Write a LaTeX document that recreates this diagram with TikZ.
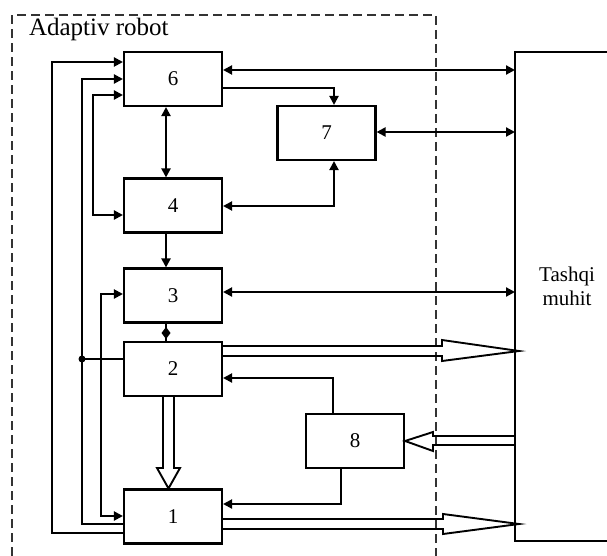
\documentclass[tikz,border=0pt]{standalone}
\usepackage{fontspec}
\setmainfont{Liberation Serif}
\usetikzlibrary{arrows.meta,calc}
\begin{document}
\begin{tikzpicture}[x=1pt,y=-1pt,
  line width=2.1pt,
  blk/.style={draw,minimum width=98pt,minimum height=54pt,inner sep=0pt,font=\fontsize{21}{24}\selectfont},
  arr/.style={-{Triangle[length=9pt,width=9pt]}},
  arrboth/.style={{Triangle[length=9pt,width=9pt]}-{Triangle[length=9pt,width=9pt]}},
  hollow/.style={line width=1.9pt,line join=miter},
  frame/.style={draw=black!80,line width=1.9pt,dash pattern=on 9pt off 5pt}
]
\useasboundingbox (0,0) rectangle (607,556);
% frame
\draw[frame] (12,556) -- (12,15) -- (436,15) -- (436,556);
\node[anchor=base west,font=\fontsize{25}{28}\selectfont,inner sep=0pt] (lbl) at (28,36) {Adaptiv robot};
% blocks
\node[blk] (b6) at (173,79) {6};
\node[blk] (b4) at (173,205.5) {4};
\node[blk] (b3) at (173,295.5) {3};
\node[blk] (b2) at (173,369) {2};
\node[blk] (b1) at (173,516.5) {1};
\node[blk] (b7) at (326.5,133) {7};
\node[blk] (b8) at (355,441) {8};
% environment
\coordinate (envNW) at (515,52);
\coordinate (envSW) at (515,541);
\draw (607,52) -- (envNW) -- (envSW) -- (607,541);
\node[align=center,font=\fontsize{21}{24}\selectfont,inner sep=0pt] (env) at (567,286) {Tashqi\\muhit};
% left feedback lines
\draw[arr] (b1.west |- 0,533) -- (52,533) -- (52,62) -- (b6.west |- 0,62);
\draw[arr] (b1.west |- 0,524) -- (82,524) -- (82,79) -- (b6.west |- 0,79);
\draw (b2.west |- 0,359) -- (82,359);
\fill (82,359) circle (3.5pt);
\draw[arrboth] (b4.west |- 0,215) -- (93,215) -- (93,95) -- (b6.west |- 0,95);
\draw[arrboth] (b1.west |- 0,516) -- (101,516) -- (101,294) -- (b3.west |- 0,294);
% central verticals
\draw[arrboth] (b6.south -| 166,0) -- (b4.north -| 166,0);
\draw[arr] (b4.south -| 166,0) -- (b3.north -| 166,0);
\draw (b3.south -| 166,0) -- (b2.north -| 166,0);
\coordinate (dm) at (166,333);
\fill ($(dm)+(0,-6)$) -- ($(dm)+(4.5,0)$) -- ($(dm)+(0,6)$) -- ($(dm)+(-4.5,0)$) -- cycle;
\draw[hollow] (b2.south -| 163,0) -- (163,468) -- (157,468) -- (b1.north -| 168.5,0) -- (180,468) -- (174,468) -- (b2.south -| 174,0);
% right side
\draw[arrboth] (b6.east |- 0,70) -- (envNW |- 0,70);
\draw[arr] (b6.east |- 0,88) -- (334,88) -- (b7.north -| 334,0);
\draw[arrboth] (b7.east |- 0,132) -- (envNW |- 0,132);
\draw[arrboth] (b4.east |- 0,206) -- (334,206) -- (b7.south -| 334,0);
\draw[arrboth] (b3.east |- 0,292) -- (envNW |- 0,292);
\draw[hollow] (b2.east |- 0,346) -- (442,346) -- (442,340) -- (519,351) -- (442,361) -- (442,356) -- (b2.east |- 0,356);
\draw[arr] (b8.north -| 333,0) -- (333,378) -- (b2.east |- 0,378);
\draw[hollow] (envNW |- 0,436) -- (433,436) -- (433,432) -- (b8.east |- 0,441) -- (433,451) -- (433,445) -- (envNW |- 0,445);
\draw[arr] (b8.south -| 341,0) -- (341,504) -- (b1.east |- 0,504);
\draw[hollow] (b1.east |- 0,519) -- (443,519) -- (443,514) -- (519,524) -- (443,534) -- (443,529) -- (b1.east |- 0,529);
\end{tikzpicture}
\end{document}
